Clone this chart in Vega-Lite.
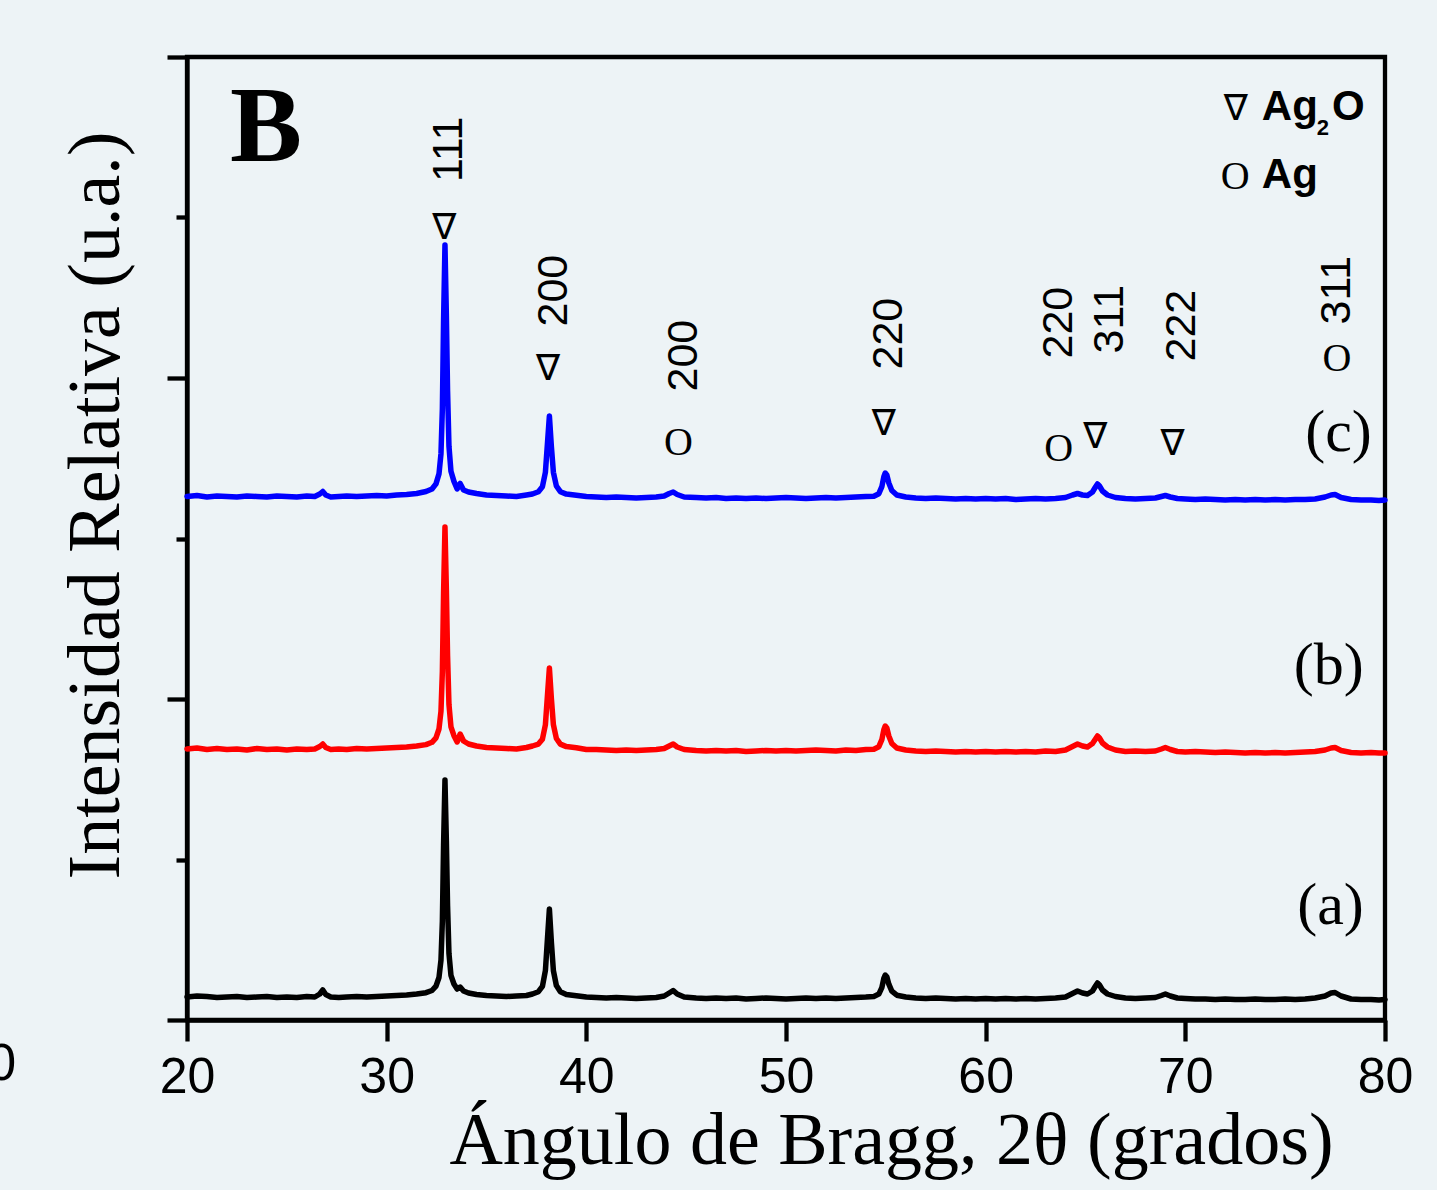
{
  "$schema": "https://vega.github.io/schema/vega-lite/v6.json",
  "autosize": {"type": "none"},
  "padding": {"left": 187, "top": 57, "right": 52, "bottom": 170},
  "width": 1198,
  "height": 963,
  "background": "#edf3f6",
  "config": {"view": {"stroke": "black", "strokeWidth": 4.3}},
  "datasets": {
    "xrd": [
      {"x":20,"a":21,"b":269,"c":521.5},
      {"x":20.5,"a":22,"b":270,"c":522.5},
      {"x":21,"a":21.5,"b":268.5,"c":521},
      {"x":21.5,"a":20.5,"b":269.5,"c":522},
      {"x":22,"a":21,"b":268.5,"c":521.5},
      {"x":22.5,"a":21.5,"b":269,"c":521},
      {"x":23,"a":20.5,"b":268,"c":522},
      {"x":23.5,"a":21,"b":269.5,"c":521.5},
      {"x":24,"a":21.5,"b":268.5,"c":521},
      {"x":24.5,"a":20.5,"b":269,"c":522},
      {"x":25,"a":21,"b":268,"c":521.5},
      {"x":25.5,"a":20.5,"b":269,"c":521},
      {"x":26,"a":21.5,"b":268.5,"c":522},
      {"x":26.4,"a":21,"b":269,"c":521.5},
      {"x":26.65,"a":24,"b":271.5,"c":524},
      {"x":26.8,"a":28,"b":274,"c":526.5},
      {"x":26.95,"a":23.5,"b":270.5,"c":523},
      {"x":27.2,"a":21,"b":268.5,"c":521},
      {"x":27.6,"a":20.5,"b":269,"c":521.5},
      {"x":28,"a":21,"b":268.5,"c":522},
      {"x":28.5,"a":21.5,"b":269.5,"c":521.5},
      {"x":29,"a":21,"b":269,"c":522},
      {"x":29.5,"a":21.5,"b":269.5,"c":522.5},
      {"x":30,"a":22,"b":270,"c":522},
      {"x":30.5,"a":22.5,"b":270.5,"c":523},
      {"x":31,"a":23,"b":271,"c":523.5},
      {"x":31.5,"a":24,"b":272,"c":524.5},
      {"x":31.97,"a":25.3,"b":273.4,"c":526.5},
      {"x":32.27,"a":27.5,"b":275.7,"c":529},
      {"x":32.47,"a":31.9,"b":280.1,"c":534.1},
      {"x":32.62,"a":40.5,"b":289,"c":544.1},
      {"x":32.72,"a":57.9,"b":306.7,"c":564.3},
      {"x":32.79,"a":97,"b":346.7,"c":609.5},
      {"x":32.85,"a":172.9,"b":424.4,"c":697.5},
      {"x":32.92,"a":238,"b":491,"c":773},
      {"x":32.99,"a":177.2,"b":428.8,"c":702.6},
      {"x":33.05,"a":112.1,"b":362.2,"c":627.1},
      {"x":33.12,"a":64.4,"b":313.4,"c":571.8},
      {"x":33.22,"a":42.7,"b":291.2,"c":546.7},
      {"x":33.37,"a":34,"b":282.3,"c":536.6},
      {"x":33.53,"a":29,"b":276,"c":529},
      {"x":33.68,"a":31,"b":284,"c":534.5},
      {"x":33.85,"a":27,"b":277,"c":528},
      {"x":34.1,"a":25,"b":274,"c":526},
      {"x":34.5,"a":23.5,"b":272,"c":524.5},
      {"x":35,"a":22.5,"b":270.5,"c":523},
      {"x":35.5,"a":22,"b":270,"c":522.5},
      {"x":36,"a":21.5,"b":269.5,"c":522},
      {"x":36.5,"a":22,"b":269,"c":521.5},
      {"x":37,"a":22.5,"b":270.5,"c":523},
      {"x":37.3,"a":24,"b":272,"c":524},
      {"x":37.6,"a":26.3,"b":273.9,"c":526.3},
      {"x":37.8,"a":31.6,"b":278.7,"c":531.2},
      {"x":37.95,"a":47.4,"b":293.3,"c":545.7},
      {"x":38.05,"a":78.2,"b":321.7,"c":573.8},
      {"x":38.15,"a":109,"b":350,"c":602},
      {"x":38.25,"a":75.6,"b":319.2,"c":571.4},
      {"x":38.35,"a":47.4,"b":293.3,"c":545.7},
      {"x":38.5,"a":32.4,"b":279.5,"c":532},
      {"x":38.7,"a":26.3,"b":273.9,"c":526.3},
      {"x":39,"a":23.6,"b":271.4,"c":523.9},
      {"x":39.5,"a":22.3,"b":270.2,"c":522.7},
      {"x":40,"a":21,"b":268.5,"c":521.5},
      {"x":40.5,"a":20.5,"b":268.5,"c":521},
      {"x":41,"a":20,"b":268,"c":520.5},
      {"x":41.5,"a":20.5,"b":267.5,"c":521},
      {"x":42,"a":20,"b":268,"c":520.5},
      {"x":42.5,"a":19.5,"b":267.5,"c":520},
      {"x":43,"a":20,"b":268,"c":520.5},
      {"x":43.5,"a":20.5,"b":268.5,"c":521},
      {"x":43.9,"a":22,"b":269.5,"c":522},
      {"x":44.15,"a":25,"b":272,"c":524.5},
      {"x":44.35,"a":27.5,"b":274,"c":526},
      {"x":44.55,"a":24,"b":271,"c":523.5},
      {"x":44.9,"a":21,"b":268.5,"c":521},
      {"x":45.5,"a":20,"b":267.5,"c":520.5},
      {"x":46,"a":19.5,"b":267,"c":520},
      {"x":46.5,"a":20,"b":267.5,"c":520.5},
      {"x":47,"a":19.5,"b":267,"c":519.5},
      {"x":47.5,"a":20,"b":267.5,"c":520},
      {"x":48,"a":19,"b":266.5,"c":519.5},
      {"x":48.5,"a":19.5,"b":267,"c":520},
      {"x":49,"a":20,"b":267.5,"c":519.5},
      {"x":49.5,"a":19.5,"b":267,"c":520},
      {"x":50,"a":19,"b":267.5,"c":520.5},
      {"x":50.5,"a":19.5,"b":267,"c":520},
      {"x":51,"a":20,"b":267.5,"c":519.5},
      {"x":51.5,"a":19.5,"b":268,"c":520},
      {"x":52,"a":20,"b":267.5,"c":520.5},
      {"x":52.5,"a":19.5,"b":267,"c":520},
      {"x":53,"a":20,"b":268,"c":520.5},
      {"x":53.5,"a":20.5,"b":267.5,"c":521},
      {"x":54,"a":21,"b":268.5,"c":521.5},
      {"x":54.4,"a":21.6,"b":268.8,"c":521.8},
      {"x":54.65,"a":23.9,"b":271.3,"c":524.3},
      {"x":54.8,"a":30.4,"b":278.3,"c":531.3},
      {"x":54.9,"a":39.6,"b":288.3,"c":541.3},
      {"x":54.97,"a":43,"b":292,"c":545},
      {"x":55.05,"a":41.2,"b":290,"c":543},
      {"x":55.15,"a":33.8,"b":282,"c":535},
      {"x":55.3,"a":26.9,"b":274.5,"c":527.5},
      {"x":55.55,"a":22.8,"b":270,"c":523},
      {"x":56,"a":21,"b":268,"c":521},
      {"x":56.5,"a":20,"b":267,"c":520},
      {"x":57,"a":19.5,"b":266.5,"c":519.5},
      {"x":57.5,"a":20,"b":267,"c":520},
      {"x":58,"a":19.5,"b":266.5,"c":519.5},
      {"x":58.5,"a":19,"b":266,"c":519},
      {"x":59,"a":19.5,"b":266.5,"c":519.5},
      {"x":59.5,"a":19,"b":266,"c":519},
      {"x":60,"a":19.5,"b":266.5,"c":519.5},
      {"x":60.5,"a":19,"b":266,"c":519},
      {"x":61,"a":19.5,"b":266.5,"c":519.5},
      {"x":61.5,"a":19,"b":266,"c":518.5},
      {"x":62,"a":19.5,"b":266.5,"c":519},
      {"x":62.5,"a":19,"b":266,"c":519.5},
      {"x":63,"a":19.5,"b":267,"c":519},
      {"x":63.5,"a":20,"b":266.5,"c":519.5},
      {"x":64,"a":21,"b":268,"c":520.5},
      {"x":64.35,"a":24.5,"b":271.5,"c":523},
      {"x":64.6,"a":27,"b":274,"c":524.5},
      {"x":64.85,"a":25,"b":272,"c":523},
      {"x":65.1,"a":24,"b":271,"c":522.5},
      {"x":65.35,"a":27,"b":274.5,"c":526},
      {"x":65.5,"a":32,"b":279,"c":531},
      {"x":65.6,"a":35,"b":282,"c":534},
      {"x":65.7,"a":33,"b":280,"c":532},
      {"x":65.85,"a":28,"b":275,"c":527},
      {"x":66.1,"a":24,"b":271,"c":523},
      {"x":66.5,"a":21.5,"b":268,"c":520.5},
      {"x":67,"a":20,"b":266.5,"c":519.5},
      {"x":67.5,"a":19.5,"b":267,"c":519},
      {"x":68,"a":20,"b":266.5,"c":519.5},
      {"x":68.5,"a":20.5,"b":267,"c":520},
      {"x":68.8,"a":22.5,"b":269,"c":521.5},
      {"x":69,"a":24,"b":270.5,"c":522.5},
      {"x":69.25,"a":22,"b":268.5,"c":521},
      {"x":69.6,"a":20,"b":266.5,"c":519.5},
      {"x":70,"a":19.5,"b":266,"c":519},
      {"x":70.5,"a":19,"b":266.5,"c":518.5},
      {"x":71,"a":19,"b":266,"c":519},
      {"x":71.5,"a":18.5,"b":265.5,"c":518.5},
      {"x":72,"a":19,"b":266,"c":518},
      {"x":72.5,"a":18.5,"b":265.5,"c":518.5},
      {"x":73,"a":18.5,"b":265,"c":518},
      {"x":73.5,"a":19,"b":265.5,"c":518.5},
      {"x":74,"a":18.5,"b":265,"c":518},
      {"x":74.5,"a":18.5,"b":265.5,"c":518.5},
      {"x":75,"a":19,"b":265,"c":518},
      {"x":75.5,"a":18.5,"b":265.5,"c":518.5},
      {"x":76,"a":19,"b":266,"c":518.5},
      {"x":76.5,"a":20,"b":266.5,"c":519},
      {"x":77,"a":22,"b":268,"c":521},
      {"x":77.3,"a":25,"b":270,"c":523},
      {"x":77.5,"a":25.5,"b":270.5,"c":523.5},
      {"x":77.8,"a":22,"b":267.5,"c":520.5},
      {"x":78.3,"a":19,"b":265.5,"c":518.5},
      {"x":78.8,"a":18.5,"b":265,"c":518},
      {"x":79.3,"a":18.5,"b":265.5,"c":518},
      {"x":79.7,"a":18,"b":265,"c":517.5},
      {"x":80,"a":18.5,"b":265,"c":518}
    ],
    "hkl": [
      {"x":33.12,"y":836,"t":"111"},
      {"x":38.38,"y":691.5,"t":"200"},
      {"x":44.89,"y":626.5,"t":"200"},
      {"x":55.15,"y":648.5,"t":"220"},
      {"x":63.67,"y":659.5,"t":"220"},
      {"x":66.22,"y":664.5,"t":"311"},
      {"x":69.82,"y":656.5,"t":"222"},
      {"x":77.59,"y":693.5,"t":"311"}
    ],
    "tri": [
      {"x":32.89,"y":779,"t":"∇"},
      {"x":38.08,"y":638,"t":"∇"},
      {"x":54.9,"y":583,"t":"∇"},
      {"x":65.49,"y":570,"t":"∇"},
      {"x":69.36,"y":563,"t":"∇"},
      {"x":72.53,"y":898,"t":"∇"}
    ],
    "circ": [
      {"x":44.61,"y":563,"t":"O"},
      {"x":63.66,"y":557,"t":"O"},
      {"x":77.59,"y":647,"t":"O"},
      {"x":72.5,"y":829,"t":"O"}
    ],
    "leg": [
      {"x":73.83,"y":898,"t":"Ag"},
      {"x":77.34,"y":898,"t":"O"},
      {"x":73.83,"y":830,"t":"Ag"}
    ],
    "sub": [
      {"x":76.58,"y":883,"t":"2"}
    ],
    "samples": [
      {"x":79.34,"y":567,"t":"(c)"},
      {"x":78.94,"y":334,"t":"(b)"},
      {"x":78.94,"y":94,"t":"(a)"}
    ],
    "panel": [
      {"x":22.15,"y":857,"t":"B"}
    ],
    "edge": [
      {"x":11.44,"y":-62,"t":"80"}
    ]
  },
  "layer": [
    {
      "data": {"name": "xrd"},
      "transform": [{"fold": ["a", "b", "c"], "as": ["s", "y"]}],
      "mark": {"type": "line", "strokeWidth": 5.5, "strokeJoin": "round", "strokeCap": "round"},
      "encoding": {
        "x": {
          "field": "x", "type": "quantitative",
          "scale": {"domain": [20, 80], "nice": false, "zero": false},
          "axis": {
            "values": [20, 30, 40, 50, 60, 70, 80],
            "format": "d",
            "tickSize": 21, "tickWidth": 4.3, "tickColor": "black",
            "domainColor": "black", "domainWidth": 4.3,
            "labelFont": "Liberation Sans", "labelFontSize": 50, "labelColor": "black",
            "labelPadding": 11, "labelFlush": false, "labelOverlap": false, "labelBound": false,
            "grid": false,
            "title": "Ángulo de Bragg, 2θ (grados)",
            "titleFont": "Liberation Serif", "titleFontSize": 74, "titleFontWeight": "normal",
            "titleColor": "black", "titleX": 704, "titleY": 143,
            "titleAlign": "center", "titleBaseline": "alphabetic"
          }
        },
        "y": {
          "field": "y", "type": "quantitative",
          "scale": {"domain": [-2, 961], "nice": false, "zero": false},
          "axis": {
            "values": [-2, 158.5, 319, 479.5, 640, 800.5, 961],
            "labels": false,
            "tickSize": {"condition": {"test": "datum.value == 158.5 || datum.value == 479.5 || datum.value == 800.5", "value": 11}, "value": 20},
            "tickWidth": 4.3, "tickColor": "black",
            "domainColor": "black", "domainWidth": 4.3,
            "grid": false,
            "title": "Intensidad Relativa (u.a.)",
            "titleFont": "Liberation Serif", "titleFontSize": 74, "titleFontWeight": "normal",
            "titleColor": "black", "titleAngle": 270, "titleX": -69, "titleY": 448,
            "titleAlign": "center", "titleBaseline": "alphabetic"
          }
        },
        "color": {
          "field": "s", "type": "nominal",
          "scale": {"domain": ["a", "b", "c"], "range": ["#000000", "#ff0000", "#0000ff"]},
          "legend": null
        }
      }
    },
    {
      "data": {"name": "hkl"},
      "mark": {"type": "text", "font": "Liberation Sans", "fontSize": 43, "angle": 270, "align": "left", "baseline": "middle", "color": "black"},
      "encoding": {
        "x": {"field": "x", "type": "quantitative", "scale": {"domain": [20, 80], "nice": false, "zero": false}},
        "y": {"field": "y", "type": "quantitative", "scale": {"domain": [-2, 961], "nice": false, "zero": false}},
        "text": {"field": "t"}
      }
    },
    {
      "data": {"name": "tri"},
      "mark": {"type": "text", "font": "DejaVu Sans", "fontSize": 36, "align": "center", "baseline": "alphabetic", "color": "black"},
      "encoding": {
        "x": {"field": "x", "type": "quantitative", "scale": {"domain": [20, 80], "nice": false, "zero": false}},
        "y": {"field": "y", "type": "quantitative", "scale": {"domain": [-2, 961], "nice": false, "zero": false}},
        "text": {"field": "t"}
      }
    },
    {
      "data": {"name": "circ"},
      "mark": {"type": "text", "font": "Liberation Serif", "fontSize": 40, "align": "center", "baseline": "alphabetic", "color": "black"},
      "encoding": {
        "x": {"field": "x", "type": "quantitative", "scale": {"domain": [20, 80], "nice": false, "zero": false}},
        "y": {"field": "y", "type": "quantitative", "scale": {"domain": [-2, 961], "nice": false, "zero": false}},
        "text": {"field": "t"}
      }
    },
    {
      "data": {"name": "leg"},
      "mark": {"type": "text", "font": "Liberation Sans", "fontSize": 42, "fontWeight": "bold", "align": "left", "baseline": "alphabetic", "color": "black"},
      "encoding": {
        "x": {"field": "x", "type": "quantitative", "scale": {"domain": [20, 80], "nice": false, "zero": false}},
        "y": {"field": "y", "type": "quantitative", "scale": {"domain": [-2, 961], "nice": false, "zero": false}},
        "text": {"field": "t"}
      }
    },
    {
      "data": {"name": "sub"},
      "mark": {"type": "text", "font": "Liberation Sans", "fontSize": 22, "fontWeight": "bold", "align": "left", "baseline": "alphabetic", "color": "black"},
      "encoding": {
        "x": {"field": "x", "type": "quantitative", "scale": {"domain": [20, 80], "nice": false, "zero": false}},
        "y": {"field": "y", "type": "quantitative", "scale": {"domain": [-2, 961], "nice": false, "zero": false}},
        "text": {"field": "t"}
      }
    },
    {
      "data": {"name": "samples"},
      "mark": {"type": "text", "font": "Liberation Serif", "fontSize": 60, "align": "right", "baseline": "alphabetic", "color": "black"},
      "encoding": {
        "x": {"field": "x", "type": "quantitative", "scale": {"domain": [20, 80], "nice": false, "zero": false}},
        "y": {"field": "y", "type": "quantitative", "scale": {"domain": [-2, 961], "nice": false, "zero": false}},
        "text": {"field": "t"}
      }
    },
    {
      "data": {"name": "panel"},
      "mark": {"type": "text", "font": "Liberation Serif", "fontSize": 108, "fontWeight": "bold", "align": "left", "baseline": "alphabetic", "color": "black"},
      "encoding": {
        "x": {"field": "x", "type": "quantitative", "scale": {"domain": [20, 80], "nice": false, "zero": false}},
        "y": {"field": "y", "type": "quantitative", "scale": {"domain": [-2, 961], "nice": false, "zero": false}},
        "text": {"field": "t"}
      }
    },
    {
      "data": {"name": "edge"},
      "mark": {"type": "text", "font": "Liberation Sans", "fontSize": 52, "align": "right", "baseline": "alphabetic", "color": "black"},
      "encoding": {
        "x": {"field": "x", "type": "quantitative", "scale": {"domain": [20, 80], "nice": false, "zero": false}},
        "y": {"field": "y", "type": "quantitative", "scale": {"domain": [-2, 961], "nice": false, "zero": false}},
        "text": {"field": "t"}
      }
    }
  ]
}
